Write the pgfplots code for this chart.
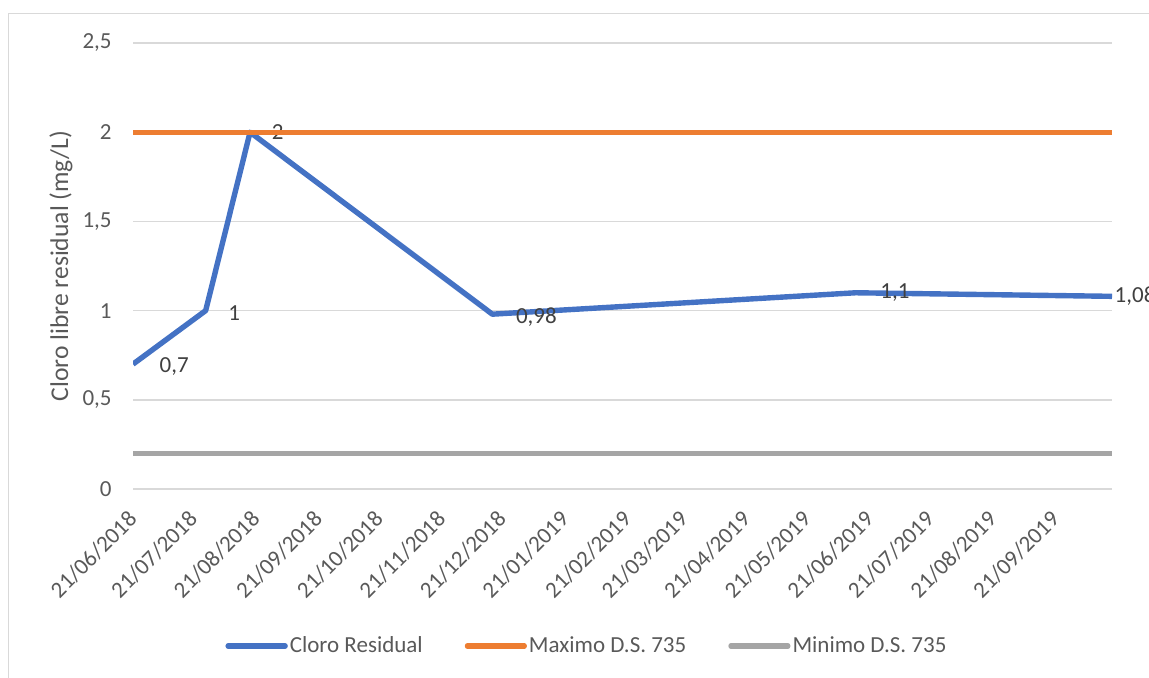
\documentclass[border=0pt]{standalone}
\usepackage{pgfplots}
\pgfplotsset{compat=1.18}
\usepackage{pgfplotstable}
\usepackage{fontspec}
\setmainfont{Carlito}
\definecolor{cblue}{HTML}{4472C4}
\definecolor{corange}{HTML}{ED7D31}
\definecolor{cgray}{HTML}{A5A5A5}
\definecolor{cgrid}{HTML}{D9D9D9}
\definecolor{ctext}{HTML}{595959}
\definecolor{clab}{HTML}{404040}

% x = days since 21/06/2018
\pgfplotstableread{
x y lab dx dy
0 0.7 {0,7} 12 -1
36 1 {1} 10 -1
58 2 {2} 9.5 0
178 0.98 {0,98} 10.5 -1.5
358 1.1 {1,1} 11 0
485 1.08 {1,08} 0 0
}\cloro

\begin{document}
\begin{tikzpicture}
\useasboundingbox (0,0) rectangle (574.5pt,338.5pt);
\draw[cgrid, line width=0.75pt] (4.2pt,-2pt) -- (4.2pt,331.8pt) -- (580pt,331.8pt);
\begin{axis}[
  at={(66.5pt,94pt)}, anchor=south west,
  width=489.5pt, height=223pt, scale only axis,
  xmin=0, xmax=485, ymin=0, ymax=2.5,
  ytick={0,0.5,1,1.5,2,2.5},
  xtick={0,30,61,92,122,153,183,214,245,273,304,334,365,395,426,457},
  xticklabels={21/06/2018,21/07/2018,21/08/2018,21/09/2018,21/10/2018,21/11/2018,21/12/2018,21/01/2019,21/02/2019,21/03/2019,21/04/2019,21/05/2019,21/06/2019,21/07/2019,21/08/2019,21/09/2019},
  axis line style={draw=none},
  major tick length=0pt,
  tick style={draw=none},
  ymajorgrids, major grid style={cgrid, line width=0.75pt},
  /pgf/number format/use comma,
  /pgf/number format/assume math mode=true,
  tick label style={font=\fontsize{11.5}{14}\selectfont, text=ctext},
  yticklabel style={anchor=east, inner sep=0pt, xshift=-10.5pt},
  xticklabel style={rotate=45, anchor=east, inner sep=0pt},
  xticklabel shift=13pt,
  ylabel={Cloro libre residual (mg/L)},
  ylabel style={at={(axis description cs:-0.0735,0.5)}, anchor=center, font=\fontsize{12.8}{15}\selectfont, text=ctext},
  clip mode=individual,
  legend columns=3,
  legend style={at={(0.4637,-0.352)}, anchor=center, draw=none, fill=none,
    font=\fontsize{11.5}{14}\selectfont, text=ctext,
    /tikz/every even column/.append style={column sep=20pt},
    nodes={inner sep=1pt}},
  legend image code/.code={\draw[#1, line cap=round] (0pt,0pt) -- (28.5pt,0pt);},
]
\addplot[cblue, line width=2.7pt, line join=round,
  point meta=explicit symbolic,
  visualization depends on={\thisrow{dx}\as\dx},
  visualization depends on={\thisrow{dy}\as\dy},
  nodes near coords,
  nodes near coords style={anchor=west, inner sep=0pt, xshift=\dx pt, yshift=\dy pt,
    font=\fontsize{11.5}{14}\selectfont, text=clab}]
  table[x=x, y=y, meta=lab] {\cloro};
\addlegendentry{Cloro Residual}
\addplot[corange, line width=2.6pt] coordinates {(0,2) (485,2)};
\addlegendentry{Maximo D.S. 735}
\addplot[cgray, line width=2.6pt] coordinates {(0,0.2) (485,0.2)};
\addlegendentry{Minimo D.S. 735}
\end{axis}
\end{tikzpicture}
\end{document}
